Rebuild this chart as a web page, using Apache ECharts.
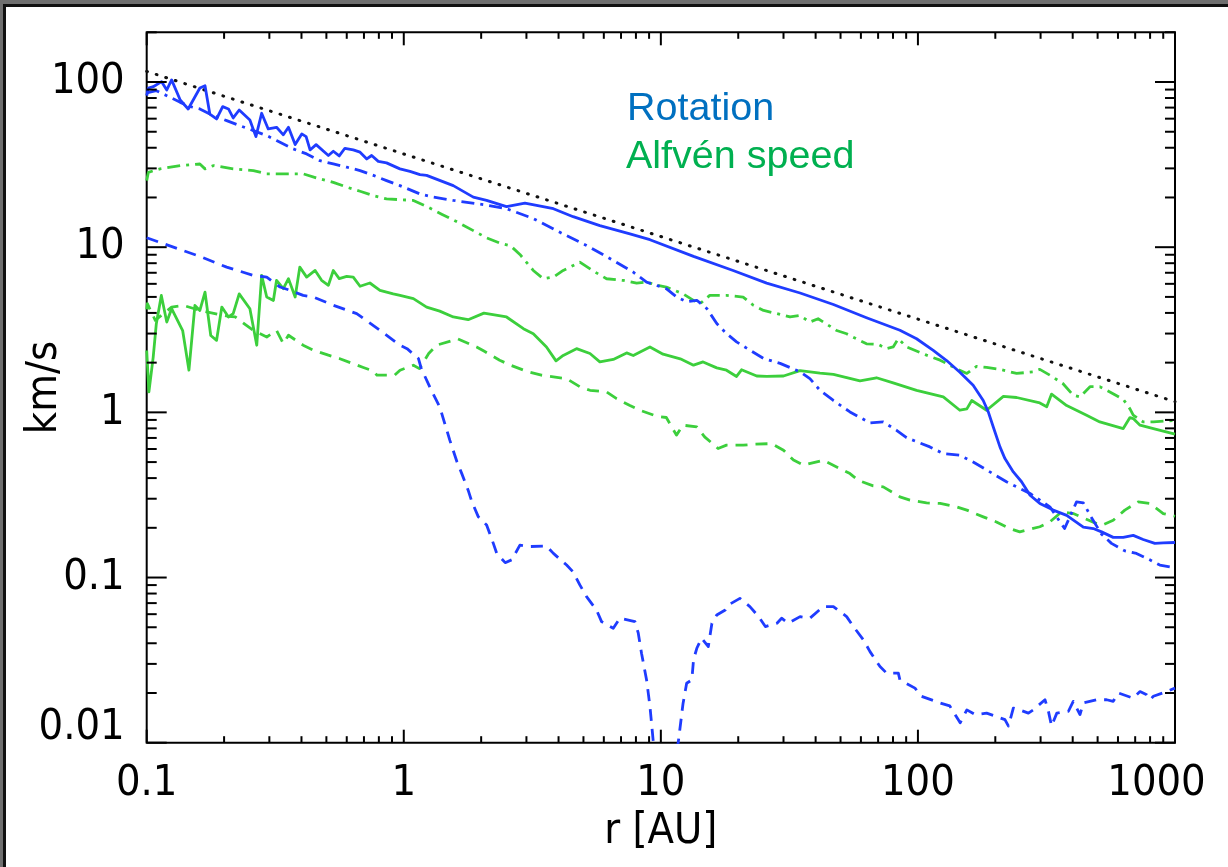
<!DOCTYPE html>
<html>
<head>
<meta charset="utf-8">
<script src="https://cdn.jsdelivr.net/npm/echarts@6/dist/echarts.min.js"></script>
<style>
html,body{margin:0;padding:0;background:#fff;}
#chart{width:1228px;height:867px;}
</style>
</head>
<body>
<div id="chart"></div>
<script>
// ---- data (r in AU, speeds in km/s) ----
const xTickLabels = ['0.1', '1', '10', '100', '1000'];
const yTickLabels = ['0.01', '0.1', '1', '10', '100'];
const xRange = [0.1, 1000];
const yRange = [0.01, 200];

const rotationSolid = [[0.1,82.7],[0.1015,92],[0.106,93.7],[0.1143,100.5],[0.1197,89.5],[0.125,103],[0.135,77.8],[0.145,68.7],[0.161,92],[0.1686,95],[0.176,64],[0.187,59.8],[0.1975,71],[0.208,68.7],[0.217,60.6],[0.229,67.7],[0.252,58.9],[0.266,46.7],[0.280,64.7],[0.297,52],[0.320,53.2],[0.340,47.9],[0.356,53.2],[0.378,41.8],[0.401,48.5],[0.417,46.7],[0.432,38.8],[0.456,41.8],[0.509,35.9],[0.532,38.1],[0.561,35.7],[0.590,39.7],[0.636,38.8],[0.676,37.6],[0.718,34.2],[0.750,35.9],[0.796,33.1],[0.857,32.4],[0.966,29.8],[1.057,28.8],[1.156,27.5],[1.227,27.2],[1.558,23.6],[1.864,20.1],[2.10,19.2],[2.51,17.6],[2.96,18.5],[3.82,17.1],[4.56,15.3],[5.79,13.5],[7.58,12.05],[9.07,11.1],[13.4,8.8],[19.1,7.23],[25.8,6.06],[34.8,5.28],[46.9,4.50],[63.1,3.74],[85.1,3.14],[98.8,2.79],[114.7,2.37],[129.3,2.06],[145.6,1.75],[164,1.46],[179.5,1.18],[187.8,1.006],[196.4,0.816],[208.5,0.618],[218,0.525],[235,0.436],[253,0.380],[273,0.315],[298,0.281],[336,0.256],[379,0.238],[440,0.202],[481,0.198],[518,0.189],[575,0.175],[629,0.175],[688,0.180],[752,0.170],[835,0.161],[900,0.162],[1000,0.163]];

const rotationDashDot = [[0.1,86],[0.109,88.6],[0.1197,82.7],[0.135,75.3],[0.1476,71],[0.161,68.7],[0.176,64],[0.2047,58.4],[0.230,54.5],[0.260,50.8],[0.293,47.4],[0.320,44.2],[0.371,39.4],[0.419,36.7],[0.472,33.4],[0.532,31.9],[0.600,30.5],[0.676,29.1],[0.762,27.2],[0.857,25.3],[0.966,23.6],[1.156,21.0],[1.30,20.1],[1.558,19.2],[1.76,18.7],[2.04,18.1],[2.51,17.1],[3.19,14.9],[4.05,12.3],[5.14,10.25],[6.53,8.32],[7.81,7.06],[8.80,6.15],[10.5,5.61],[11.5,5.0],[12.6,4.67],[13.8,4.77],[15.1,4.25],[16.5,3.45],[18.0,3.0],[19.7,2.67],[22.2,2.38],[25.1,2.12],[29.1,1.98],[34.8,1.76],[38.0,1.60],[41.6,1.36],[46.9,1.18],[54.4,1.006],[65.1,0.863],[73.3,0.875],[82.6,0.779],[90.3,0.703],[111.3,0.618],[125.5,0.563],[145.6,0.550],[164,0.501],[190.5,0.436],[221,0.380],[273,0.323],[326,0.268],[372,0.198],[414,0.287],[440,0.283],[473,0.231],[518,0.183],[566,0.161],[638,0.145],[708,0.140],[798,0.128],[873,0.119],[984,0.115]];

const rotationDashed = [[0.1,11.4],[0.127,10.0],[0.161,8.79],[0.2047,7.57],[0.260,6.75],[0.293,6.59],[0.330,5.74],[0.361,5.48],[0.406,5.11],[0.445,4.99],[0.532,4.45],[0.656,3.96],[0.808,3.14],[0.966,2.55],[1.03,2.43],[1.14,2.12],[1.17,1.84],[1.28,1.36],[1.38,1.08],[1.51,0.679],[1.61,0.502],[1.68,0.427],[1.78,0.338],[1.84,0.288],[1.95,0.233],[2.10,0.208],[2.23,0.161],[2.30,0.140],[2.48,0.123],[2.63,0.128],[2.83,0.157],[3.05,0.154],[3.59,0.155],[3.82,0.140],[4.30,0.119],[4.56,0.108],[4.84,0.0902],[5.14,0.0766],[5.62,0.0636],[5.88,0.0541],[6.53,0.0493],[6.93,0.0567],[7.93,0.0541],[8.17,0.046],[8.41,0.0348],[8.80,0.024],[9.07,0.0166],[9.34,0.0102],[9.8,0.006],[10.6,0.004],[11.3,0.007],[11.7,0.0102],[12.2,0.0173],[12.6,0.0229],[13.2,0.024],[13.4,0.0318],[13.8,0.0373],[14.4,0.043],[15.3,0.0382],[15.8,0.0529],[16.5,0.0593],[17.8,0.0636],[18.3,0.0682],[20.3,0.0748],[22.2,0.0667],[24.0,0.058],[25.5,0.0505],[28.3,0.0529],[29.5,0.0567],[31.3,0.0529],[34.8,0.058],[38.0,0.0567],[42.8,0.0667],[46.9,0.0667],[52.8,0.058],[56.1,0.0505],[61.4,0.0419],[65.1,0.0356],[71.2,0.0289],[75.5,0.0264],[83.9,0.0264],[85.1,0.024],[97.4,0.0214],[103,0.0191],[122,0.0174],[133,0.0167],[141,0.0144],[146,0.0132],[155,0.0158],[167,0.0148],[185,0.0151],[202,0.0144],[218,0.0138],[225,0.0126],[235,0.0162],[249,0.0158],[269,0.0151],[281,0.0158],[312,0.0182],[321,0.0158],[331,0.0126],[347,0.0151],[385,0.0155],[402,0.0178],[427,0.0148],[440,0.0174],[496,0.0182],[542,0.0182],[575,0.0178],[602,0.020],[688,0.0186],[731,0.0204],[776,0.0195],[800,0.0182],[824,0.0191],[927,0.0204],[1000,0.0214]];

const alfvenSolid = [[0.1,2.37],[0.102,1.33],[0.106,2.16],[0.109,3.44],[0.114,5.10],[0.1197,3.52],[0.125,4.24],[0.138,3.13],[0.146,1.80],[0.154,4.44],[0.161,4.14],[0.1686,5.35],[0.1775,2.92],[0.187,2.73],[0.196,4.34],[0.208,3.78],[0.217,3.96],[0.229,5.22],[0.252,4.24],[0.268,2.55],[0.280,6.75],[0.293,4.99],[0.311,4.76],[0.320,6.30],[0.340,5.61],[0.356,6.45],[0.378,4.99],[0.394,7.57],[0.419,6.59],[0.452,7.23],[0.479,6.30],[0.509,5.88],[0.532,7.23],[0.561,6.45],[0.600,6.65],[0.636,6.59],[0.676,5.80],[0.738,6.07],[0.808,5.48],[0.910,5.22],[0.967,5.11],[1.09,4.88],[1.227,4.34],[1.38,4.10],[1.558,3.78],[1.78,3.64],[2.05,3.99],[2.51,3.78],[2.92,3.21],[3.19,2.99],[3.59,2.49],[3.91,2.05],[4.17,2.21],[4.70,2.43],[5.30,2.27],[5.79,2.02],[6.53,2.09],[7.36,2.29],[7.81,2.21],[9.07,2.49],[10.2,2.25],[11.9,2.11],[13.4,1.93],[14.6,2.02],[16.5,1.86],[18.0,1.80],[19.7,1.65],[20.6,1.81],[23.6,1.66],[25.8,1.65],[30.0,1.66],[34.8,1.79],[41.6,1.73],[46.9,1.70],[59.5,1.55],[69.0,1.62],[80.1,1.51],[98.8,1.36],[125.5,1.24],[145.6,1.03],[155,1.05],[162,1.18],[185,1.03],[215,1.25],[242,1.23],[298,1.14],[317,1.08],[331,1.29],[379,1.10],[453,0.960],[510,0.875],[629,0.798],[668,0.930],[688,0.917],[731,0.836],[824,0.798],[1000,0.738]];

const alfvenDashed = [[0.1,4.2],[0.1006,4.55],[0.108,3.61],[0.125,4.34],[0.139,4.44],[0.161,4.14],[0.208,3.81],[0.221,3.78],[0.260,3.13],[0.293,2.86],[0.320,3.13],[0.340,2.61],[0.356,2.93],[0.406,2.55],[0.445,2.38],[0.509,2.22],[0.561,2.12],[0.636,1.97],[0.696,1.87],[0.762,1.78],[0.786,1.68],[0.922,1.68],[0.967,1.80],[1.09,1.93],[1.15,1.84],[1.25,2.27],[1.34,2.55],[1.558,2.73],[1.62,2.79],[1.92,2.49],[2.05,2.35],[2.36,2.07],[2.60,1.93],[3.05,1.76],[3.43,1.68],[3.82,1.64],[4.30,1.60],[4.84,1.43],[5.30,1.36],[6.15,1.33],[6.73,1.21],[7.58,1.10],[8.30,1.03],[9.63,0.948],[10.5,0.931],[11.5,0.728],[12.2,0.836],[13.8,0.817],[14.8,0.711],[16.7,0.604],[18.0,0.633],[20.9,0.633],[23.2,0.642],[27.0,0.647],[30.0,0.590],[32.8,0.514],[35.9,0.479],[42.8,0.513],[54.4,0.426],[58.6,0.388],[67.0,0.359],[73.3,0.354],[85.1,0.308],[93.1,0.294],[108,0.283],[122,0.281],[141,0.268],[155,0.256],[179.5,0.233],[202,0.217],[228,0.198],[249,0.189],[298,0.203],[326,0.217],[362,0.250],[402,0.244],[496,0.212],[518,0.207],[575,0.222],[638,0.256],[719,0.287],[798,0.281],[900,0.244],[1000,0.235]];

const alfvenDashDot = [[0.1,25.3],[0.1015,28.4],[0.1127,29.8],[0.135,31.2],[0.161,31.9],[0.1686,29.8],[0.182,31.2],[0.217,29.8],[0.260,29.1],[0.293,27.8],[0.340,27.8],[0.406,27.8],[0.472,25.9],[0.532,24.7],[0.600,23.1],[0.676,21.8],[0.762,20.5],[0.857,19.6],[0.966,19.4],[1.09,19.2],[1.24,17.5],[1.41,15.8],[1.645,14.0],[1.864,12.6],[2.10,11.4],[2.36,10.6],[2.60,10.2],[2.83,9.04],[3.19,7.23],[3.49,6.44],[3.82,6.59],[4.17,7.23],[4.84,8.12],[5.46,7.17],[6.15,6.44],[7.14,6.29],[8.05,6.06],[8.80,6.15],[9.72,5.87],[10.5,5.73],[12.2,5.22],[13.4,4.76],[14.2,4.55],[15.5,5.11],[18.0,5.11],[20.9,4.99],[22.9,4.45],[25.1,4.14],[28.3,3.96],[31.8,3.78],[34.7,3.86],[38.0,3.52],[40.9,3.69],[48.3,3.13],[52.8,2.99],[63.1,2.60],[70.1,2.58],[75.5,2.43],[80.1,2.49],[83.9,2.79],[90.3,2.49],[108,2.22],[122,2.07],[141,1.84],[155,1.72],[169,1.90],[185,1.87],[208.5,1.82],[242,1.72],[281,1.76],[298,1.82],[326,1.68],[367,1.49],[402,1.27],[427,1.24],[467,1.43],[510,1.43],[558,1.33],[629,1.20],[668,1.05],[688,0.962],[752,0.875],[824,0.875],[927,0.887],[1000,0.895]];

const keplerDotted = [[0.1,116],[1000,1.16]];

const legendLabels = ['Rotation', 'Alfvén speed'];
const axisNames = {x: 'r [AU]', y: 'km/s'};

// ---- styling ----
const BLUE = '#1f3cff';
const GREEN = '#3ccf3c';
const AXIS_FONT = '"DejaVu Sans Condensed", "DejaVu Sans", sans-serif';
const AXIS_FS = 43;
const LW = 2.8;

function lg(v){ return Math.log10(v); }
function sameVal(a, b){ return Math.abs(lg(a) - lg(b)) < 1e-6; }
function isMajor(v){ const l = lg(v); return Math.abs(l - Math.round(l)) < 1e-6; }
function tickValues(range){
  const out = [];
  const d0 = Math.floor(lg(range[0]) + 1e-9), d1 = Math.ceil(lg(range[1]) - 1e-9);
  for (let d = d0; d <= d1; d++) {
    for (let m = 1; m <= 9; m++) {
      const v = m * Math.pow(10, d);
      if (v >= range[0] * (1 - 1e-9) && v <= range[1] * (1 + 1e-9)) out.push([v]);
    }
  }
  return out;
}
const xTicks = tickValues(xRange);
const yTicks = tickValues(yRange);

const chart = echarts.init(document.getElementById('chart'), null, {renderer: 'canvas'});

function mkLine(name, data, color, type) {
  let dash = 'solid';
  if (type === 'dashed') dash = [12, 8];
  if (type === 'dashdot') dash = [13, 6, 3, 6];
  if (type === 'dotted') dash = [0.8, 9.2];
  return {
    name: name, type: 'line', data: data, showSymbol: false, symbol: 'none',
    clip: true, silent: true, z: 3,
    lineStyle: {color: color, width: type === 'dotted' ? 3 : LW, type: dash, cap: type === 'dotted' ? 'round' : 'butt', join: 'round'}
  };
}

const option = {
  animation: false,
  backgroundColor: '#ffffff',
  grid: {left: 146.7, right: 53, top: 32.3, bottom: 124.3, show: true, borderColor: '#000', borderWidth: 2, backgroundColor: 'transparent', containLabel: false, outerBoundsMode: 'none'},
  xAxis: {
    type: 'log', logBase: 10, min: xRange[0], max: xRange[1],
    name: axisNames.x, nameLocation: 'middle', nameGap: 68, nameMoveOverlap: false,
    nameTextStyle: {fontFamily: AXIS_FONT, fontSize: AXIS_FS, color: '#000'},
    axisLine: {show: false}, axisTick: {show: false}, splitLine: {show: false}, minorTick: {show: false},
    axisLabel: {
      show: true, margin: 20, showMinLabel: true, showMaxLabel: true, hideOverlap: false,
      fontFamily: AXIS_FONT, fontSize: AXIS_FS, color: '#000',
      formatter: function (val) {
        const vals = xTickLabels.map(Number);
        const i = vals.findIndex(t => sameVal(t, val));
        if (i < 0) return '';
        return i === vals.length - 1 ? '{r|' + xTickLabels[i] + '}' : xTickLabels[i];
      },
      rich: {r: {fontFamily: AXIS_FONT, fontSize: AXIS_FS, color: '#000', padding: [0, 37, 0, 0]}}
    }
  },
  yAxis: {
    type: 'log', logBase: 10, min: yRange[0], max: yRange[1],
    name: axisNames.y, nameLocation: 'middle', nameGap: 80, nameRotate: 90, nameMoveOverlap: false,
    nameTextStyle: {fontFamily: AXIS_FONT, fontSize: AXIS_FS, color: '#000'},
    axisLine: {show: false}, axisTick: {show: false}, splitLine: {show: false}, minorTick: {show: false},
    axisLabel: {
      show: true, margin: 22, showMinLabel: true, showMaxLabel: true, hideOverlap: false,
      fontFamily: AXIS_FONT, fontSize: AXIS_FS, color: '#000',
      formatter: function (val) {
        const vals = yTickLabels.map(Number);
        const i = vals.findIndex(t => sameVal(t, val));
        if (i < 0) return '';
        return i === 0 ? '{m|' + yTickLabels[i] + '}' : yTickLabels[i];
      },
      rich: {m: {fontFamily: AXIS_FONT, fontSize: AXIS_FS, color: '#000', padding: [0, 0, 30, 0]}}
    }
  },
  graphic: [
    {type: 'rect', left: 0, top: 0, shape: {width: 1228, height: 4}, style: {fill: '#6f6f6f'}, silent: true},
    {type: 'rect', left: 0, top: 0, shape: {width: 3, height: 867}, style: {fill: '#6f6f6f'}, silent: true},
    {type: 'rect', left: 3, top: 4, shape: {width: 1225, height: 3}, style: {fill: '#111'}, silent: true},
    {type: 'rect', left: 3, top: 4, shape: {width: 3, height: 863}, style: {fill: '#111'}, silent: true},
    {type: 'text', left: 627, top: 89, silent: true, z: 10,
      style: {text: legendLabels[0], fill: '#0070c0', font: '39.5px "Liberation Sans", Arial, sans-serif'}},
    {type: 'text', left: 626, top: 137, silent: true, z: 10,
      style: {text: legendLabels[1], fill: '#00b050', font: '39.5px "Liberation Sans", Arial, sans-serif'}}
  ],
  series: [
    mkLine('kepler', keplerDotted, '#111', 'dotted'),
    mkLine('Alfven dash-dot', alfvenDashDot, GREEN, 'dashdot'),
    mkLine('Alfven dashed', alfvenDashed, GREEN, 'dashed'),
    mkLine('Alfven solid', alfvenSolid, GREEN, 'solid'),
    mkLine('Rotation dash-dot', rotationDashDot, BLUE, 'dashdot'),
    mkLine('Rotation dashed', rotationDashed, BLUE, 'dashed'),
    mkLine('Rotation solid', rotationSolid, BLUE, 'solid'),
    {
      type: 'custom', name: 'xticks', data: xTicks, silent: true, z: 5, clip: false,
      encode: {x: 0},
      renderItem: function (params, api) {
        const v = api.value(0);
        const len = isMajor(v) ? 13 : 6.5;
        const pb = api.coord([v, yRange[0]]);
        const pt = api.coord([v, yRange[1]]);
        const st = {stroke: '#000', lineWidth: 2};
        return {type: 'group', children: [
          {type: 'line', shape: {x1: pb[0], y1: pb[1], x2: pb[0], y2: pb[1] - len}, style: st},
          {type: 'line', shape: {x1: pt[0], y1: pt[1], x2: pt[0], y2: pt[1] + len}, style: st}
        ]};
      }
    },
    {
      type: 'custom', name: 'yticks', data: yTicks.map(t => [xRange[0], t[0]]), silent: true, z: 5, clip: false,
      encode: {x: 0, y: 1},
      renderItem: function (params, api) {
        const v = api.value(1);
        const len = isMajor(v) ? 20 : 10;
        const pl = api.coord([xRange[0], v]);
        const pr = api.coord([xRange[1], v]);
        const st = {stroke: '#000', lineWidth: 2};
        return {type: 'group', children: [
          {type: 'line', shape: {x1: pl[0], y1: pl[1], x2: pl[0] + len, y2: pl[1]}, style: st},
          {type: 'line', shape: {x1: pr[0], y1: pr[1], x2: pr[0] - len, y2: pr[1]}, style: st}
        ]};
      }
    }
  ]
};
chart.setOption(option);
</script>
</body>
</html>
